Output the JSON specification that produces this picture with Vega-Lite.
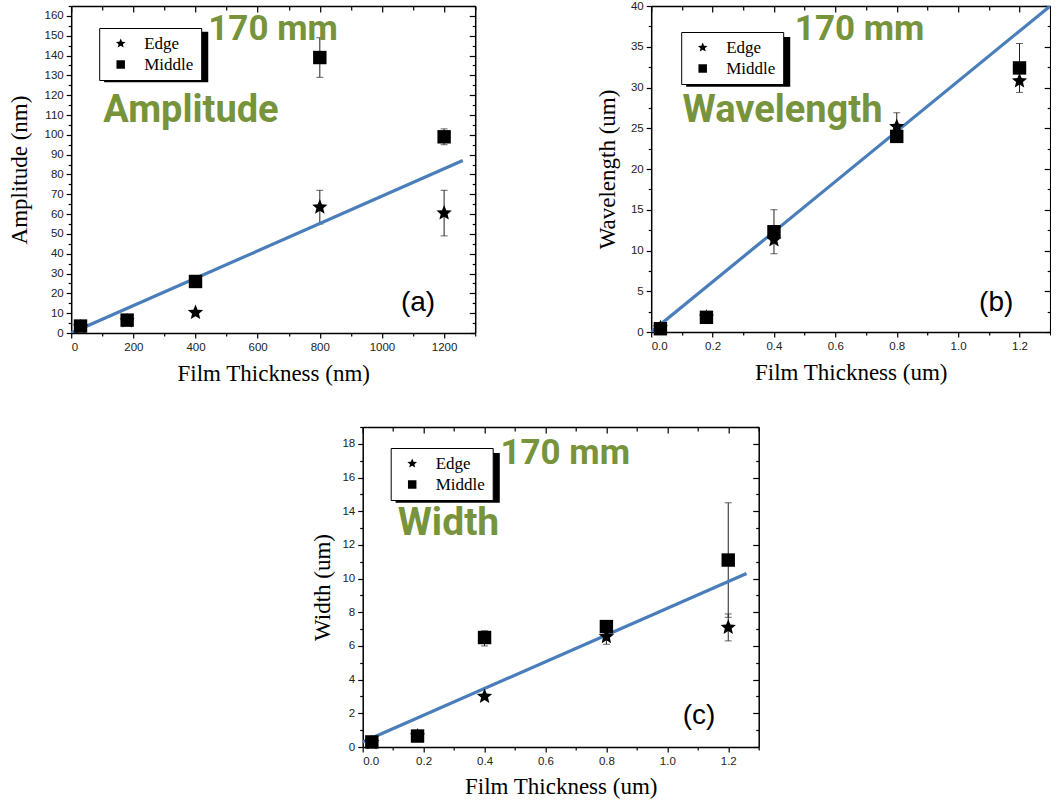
{
  "$schema": "https://vega.github.io/schema/vega-lite/v6.json",
  "background": "white",
  "padding": {"left": 8, "top": 0, "right": 0, "bottom": 0},
  "datasets": {
    "one": [{}],
    "ampl": [
      {"t": 30, "series": "Edge", "v": 3},
      {"t": 180, "series": "Edge", "v": 6},
      {"t": 400, "series": "Edge", "v": 10.3},
      {"t": 800, "series": "Edge", "v": 63.5, "lo": 55, "hi": 72},
      {"t": 1200, "series": "Edge", "v": 60.5, "lo": 49, "hi": 72},
      {"t": 30, "series": "Middle", "v": 3.5},
      {"t": 180, "series": "Middle", "v": 6.5},
      {"t": 400, "series": "Middle", "v": 26},
      {"t": 800, "series": "Middle", "v": 139, "lo": 129, "hi": 149},
      {"t": 1200, "series": "Middle", "v": 99, "lo": 95, "hi": 103}
    ],
    "afit": [{"t": 0, "v": 0}, {"t": 1260, "v": 87}],
    "wave": [
      {"t": 0.03, "series": "Edge", "v": 0.5},
      {"t": 0.18, "series": "Edge", "v": 1.8},
      {"t": 0.4, "series": "Edge", "v": 11.3},
      {"t": 0.8, "series": "Edge", "v": 25.2, "lo": 23.5, "hi": 26.9},
      {"t": 1.2, "series": "Edge", "v": 30.8},
      {"t": 0.03, "series": "Middle", "v": 0.4},
      {"t": 0.18, "series": "Middle", "v": 1.8},
      {"t": 0.4, "series": "Middle", "v": 12.3, "lo": 9.6, "hi": 15},
      {"t": 0.8, "series": "Middle", "v": 24},
      {"t": 1.2, "series": "Middle", "v": 32.4, "lo": 29.4, "hi": 35.4}
    ],
    "wfit": [{"t": 0, "v": 0}, {"t": 1.3, "v": 40}],
    "wid": [
      {"t": 0.03, "series": "Edge", "v": 0.25},
      {"t": 0.18, "series": "Edge", "v": 0.65},
      {"t": 0.4, "series": "Edge", "v": 3.0},
      {"t": 0.8, "series": "Edge", "v": 6.55, "lo": 6.1, "hi": 7.0},
      {"t": 1.2, "series": "Edge", "v": 7.1, "lo": 6.3, "hi": 7.9},
      {"t": 0.03, "series": "Middle", "v": 0.3},
      {"t": 0.18, "series": "Middle", "v": 0.65},
      {"t": 0.4, "series": "Middle", "v": 6.5, "lo": 6.0, "hi": 6.9},
      {"t": 0.8, "series": "Middle", "v": 7.15},
      {"t": 1.2, "series": "Middle", "v": 11.1, "lo": 7.7, "hi": 14.5}
    ],
    "cfit": [{"t": 0, "v": 0.3}, {"t": 1.26, "v": 10.3}]
  },
  "vconcat": [
    {
      "hconcat": [
        {
          "width": 404,
          "height": 327,
          "layer": [
            {"data": {"name": "one"}, "mark": {"type": "rect", "color": "black"},
             "encoding": {"x": {"datum": 106, "type": "quantitative", "axis": null}, "x2": {"datum": 441},
                          "y": {"datum": 152, "type": "quantitative", "axis": null}, "y2": {"datum": 126.5}}},
            {"data": {"name": "ampl"}, "transform": [{"filter": "isValid(datum.lo)"}],
             "mark": {"type": "errorbar", "ticks": {"size": 7}, "color": "#222", "thickness": 1},
             "encoding": {"x": {"field": "t", "type": "quantitative", "axis": null},
                          "y": {"field": "lo", "type": "quantitative", "axis": null}, "y2": {"field": "hi"}}},
            {"data": {"name": "afit"}, "mark": {"type": "line", "color": "#4A7EBB", "strokeWidth": 3.2, "clip": true},
             "encoding": {"x": {"field": "t", "type": "quantitative", "axis": null},
                          "y": {"field": "v", "type": "quantitative", "axis": null}}},
            {"data": {"name": "ampl"}, "mark": {"type": "point", "filled": true, "color": "black", "opacity": 1, "size": 180},
             "encoding": {
               "x": {"field": "t", "type": "quantitative", "scale": {"domain": [0, 1300], "nice": false, "zero": false},
                     "axis": {"orient": "bottom", "values": [0, 200, 400, 600, 800, 1000, 1200], "format": "d", "tickSize": 5, "labelPadding": 3, "title": "Film Thickness (nm)", "titlePadding": 10}},
               "y": {"field": "v", "type": "quantitative", "scale": {"domain": [0, 165], "nice": false, "zero": false},
                     "axis": {"orient": "left", "values": [0, 10, 20, 30, 40, 50, 60, 70, 80, 90, 100, 110, 120, 130, 140, 150, 160], "tickSize": 5, "labelPadding": 3, "title": "Amplitude (nm)", "titlePadding": 13}},
               "shape": {"field": "series", "type": "nominal", "scale": {"domain": ["Edge", "Middle"], "range": ["M0,-1.2L0.317,-0.437L1.141,-0.371L0.514,0.167L0.705,0.971L0,0.54L-0.705,0.971L-0.514,0.167L-1.141,-0.371L-0.317,-0.437Z", "square"]},
                         "legend": {"title": null, "orient": "none", "legendX": 28, "legendY": 22}}
             }},
            {"data": {"name": "one"}, "mark": {"type": "text", "text": "170 mm", "font": "Roboto", "fontWeight": "bold", "fontSize": 35, "color": "#77933C", "align": "left", "baseline": "alphabetic"},
             "encoding": {"x": {"datum": 441, "type": "quantitative", "axis": null}, "y": {"datum": 148, "type": "quantitative", "axis": null}}},
            {"data": {"name": "one"}, "mark": {"type": "text", "text": "Amplitude", "font": "Roboto", "fontWeight": "bold", "fontSize": 38, "color": "#77933C", "align": "left", "baseline": "alphabetic"},
             "encoding": {"x": {"datum": 103, "type": "quantitative", "axis": null}, "y": {"datum": 106.7, "type": "quantitative", "axis": null}}},
            {"data": {"name": "one"}, "mark": {"type": "text", "text": "(a)", "font": "Liberation Sans", "fontSize": 28, "color": "black", "align": "center", "baseline": "middle"},
             "encoding": {"x": {"datum": 1116, "type": "quantitative", "axis": null}, "y": {"datum": 15.2, "type": "quantitative", "axis": null}}},
            {"data": {"name": "ampl"}, "mark": {"type": "point", "opacity": 0},
             "encoding": {
               "x": {"field": "t", "type": "quantitative", "axis": {"orient": "bottom", "values": [100, 300, 500, 700, 900, 1100, 1300], "tickSize": 3, "labels": false, "domain": false, "title": null}},
               "y": {"field": "v", "type": "quantitative", "axis": {"orient": "left", "values": [5, 15, 25, 35, 45, 55, 65, 75, 85, 95, 105, 115, 125, 135, 145, 155, 165], "tickSize": 3, "labels": false, "domain": false, "title": null}}}},
            {"data": {"name": "ampl"}, "mark": {"type": "point", "opacity": 0},
             "encoding": {
               "x": {"field": "t", "type": "quantitative", "axis": {"orient": "top", "values": [0, 200, 400, 600, 800, 1000, 1200], "tickSize": -6, "labels": false, "domain": true, "title": null}},
               "y": {"field": "v", "type": "quantitative", "axis": {"orient": "right", "values": [0, 10, 20, 30, 40, 50, 60, 70, 80, 90, 100, 110, 120, 130, 140, 150, 160], "tickSize": -6, "labels": false, "domain": true, "title": null}}}},
            {"data": {"name": "ampl"}, "mark": {"type": "point", "opacity": 0},
             "encoding": {
               "x": {"field": "t", "type": "quantitative", "axis": {"orient": "top", "values": [100, 300, 500, 700, 900, 1100, 1300], "tickSize": -4, "labels": false, "domain": false, "title": null}},
               "y": {"field": "v", "type": "quantitative", "axis": {"orient": "right", "values": [5, 15, 25, 35, 45, 55, 65, 75, 85, 95, 105, 115, 125, 135, 145, 155, 165], "tickSize": -3, "labels": false, "domain": false, "title": null}}}}
          ],
          "resolve": {"axis": {"x": "independent", "y": "independent"}}
        },
        {
          "width": 399,
          "height": 326,
          "layer": [
            {"data": {"name": "one"}, "mark": {"type": "rect", "color": "black"},
             "encoding": {"x": {"datum": 0.114, "type": "quantitative", "axis": null}, "x2": {"datum": 0.453},
                          "y": {"datum": 36.2, "type": "quantitative", "axis": null}, "y2": {"datum": 30.1}}},
            {"data": {"name": "wave"}, "transform": [{"filter": "isValid(datum.lo)"}],
             "mark": {"type": "errorbar", "ticks": {"size": 7}, "color": "#222", "thickness": 1},
             "encoding": {"x": {"field": "t", "type": "quantitative", "axis": null},
                          "y": {"field": "lo", "type": "quantitative", "axis": null}, "y2": {"field": "hi"}}},
            {"data": {"name": "wfit"}, "mark": {"type": "line", "color": "#4A7EBB", "strokeWidth": 3.2, "clip": true},
             "encoding": {"x": {"field": "t", "type": "quantitative", "axis": null},
                          "y": {"field": "v", "type": "quantitative", "axis": null}}},
            {"data": {"name": "wave"}, "mark": {"type": "point", "filled": true, "color": "black", "opacity": 1, "size": 180},
             "encoding": {
               "x": {"field": "t", "type": "quantitative", "scale": {"domain": [0, 1.3], "nice": false, "zero": false},
                     "axis": {"orient": "bottom", "values": [0, 0.2, 0.4, 0.6, 0.8, 1.0, 1.2], "format": ".1f", "tickSize": 5, "labelPadding": 3, "title": "Film Thickness (um)", "titlePadding": 10}},
               "y": {"field": "v", "type": "quantitative", "scale": {"domain": [0, 40], "nice": false, "zero": false},
                     "axis": {"orient": "left", "values": [0, 5, 10, 15, 20, 25, 30, 35, 40], "tickSize": 5, "labelPadding": 3, "title": "Wavelength (um)", "titlePadding": 11}},
               "shape": {"field": "series", "type": "nominal", "scale": {"domain": ["Edge", "Middle"], "range": ["M0,-1.2L0.317,-0.437L1.141,-0.371L0.514,0.167L0.705,0.971L0,0.54L-0.705,0.971L-0.514,0.167L-1.141,-0.371L-0.317,-0.437Z", "square"]},
                         "legend": {"title": null, "orient": "none", "legendX": 30, "legendY": 26}}
             }},
            {"data": {"name": "one"}, "mark": {"type": "text", "text": "170 mm", "font": "Roboto", "fontWeight": "bold", "fontSize": 35, "color": "#77933C", "align": "left", "baseline": "alphabetic"},
             "encoding": {"x": {"datum": 0.468, "type": "quantitative", "axis": null}, "y": {"datum": 35.8, "type": "quantitative", "axis": null}}},
            {"data": {"name": "one"}, "mark": {"type": "text", "text": "Wavelength", "font": "Roboto", "fontWeight": "bold", "fontSize": 38, "color": "#77933C", "align": "left", "baseline": "alphabetic"},
             "encoding": {"x": {"datum": 0.102, "type": "quantitative", "axis": null}, "y": {"datum": 25.8, "type": "quantitative", "axis": null}}},
            {"data": {"name": "one"}, "mark": {"type": "text", "text": "(b)", "font": "Liberation Sans", "fontSize": 28, "color": "black", "align": "center", "baseline": "middle"},
             "encoding": {"x": {"datum": 1.124, "type": "quantitative", "axis": null}, "y": {"datum": 3.55, "type": "quantitative", "axis": null}}},
            {"data": {"name": "wave"}, "mark": {"type": "point", "opacity": 0},
             "encoding": {
               "x": {"field": "t", "type": "quantitative", "axis": {"orient": "bottom", "values": [0.1, 0.3, 0.5, 0.7, 0.9, 1.1, 1.3], "tickSize": 3, "labels": false, "domain": false, "title": null}},
               "y": {"field": "v", "type": "quantitative", "axis": {"orient": "left", "values": [2.5, 7.5, 12.5, 17.5, 22.5, 27.5, 32.5, 37.5], "tickSize": 3, "labels": false, "domain": false, "title": null}}}},
            {"data": {"name": "wave"}, "mark": {"type": "point", "opacity": 0},
             "encoding": {
               "x": {"field": "t", "type": "quantitative", "axis": {"orient": "top", "values": [0, 0.2, 0.4, 0.6, 0.8, 1.0, 1.2], "tickSize": -6, "labels": false, "domain": true, "title": null}},
               "y": {"field": "v", "type": "quantitative", "axis": {"orient": "right", "values": [0, 5, 10, 15, 20, 25, 30, 35, 40], "tickSize": -6, "labels": false, "domain": true, "title": null}}}},
            {"data": {"name": "wave"}, "mark": {"type": "point", "opacity": 0},
             "encoding": {
               "x": {"field": "t", "type": "quantitative", "axis": {"orient": "top", "values": [0.1, 0.3, 0.5, 0.7, 0.9, 1.1, 1.3], "tickSize": -4, "labels": false, "domain": false, "title": null}},
               "y": {"field": "v", "type": "quantitative", "axis": {"orient": "right", "values": [2.5, 7.5, 12.5, 17.5, 22.5, 27.5, 32.5, 37.5], "tickSize": -3, "labels": false, "domain": false, "title": null}}}}
          ],
          "resolve": {"axis": {"x": "independent", "y": "independent"}}
        }
      ],
      "spacing": 176,
      "bounds": "flush",
      "resolve": {"scale": {"shape": "independent"}, "legend": {"shape": "independent"}}
    },
    {
      "width": 396,
      "height": 320,
      "layer": [
        {"data": {"name": "one"}, "mark": {"type": "rect", "color": "black"},
         "encoding": {"x": {"datum": 0.108, "type": "quantitative", "axis": null}, "x2": {"datum": 0.45},
                      "y": {"datum": 17.46, "type": "quantitative", "axis": null}, "y2": {"datum": 14.5}}},
        {"data": {"name": "wid"}, "transform": [{"filter": "isValid(datum.lo)"}],
         "mark": {"type": "errorbar", "ticks": {"size": 7}, "color": "#222", "thickness": 1},
         "encoding": {"x": {"field": "t", "type": "quantitative", "axis": null},
                      "y": {"field": "lo", "type": "quantitative", "axis": null}, "y2": {"field": "hi"}}},
        {"data": {"name": "cfit"}, "mark": {"type": "line", "color": "#4A7EBB", "strokeWidth": 3.2, "clip": true},
         "encoding": {"x": {"field": "t", "type": "quantitative", "axis": null},
                      "y": {"field": "v", "type": "quantitative", "axis": null}}},
        {"data": {"name": "wid"}, "mark": {"type": "point", "filled": true, "color": "black", "opacity": 1, "size": 180},
         "encoding": {
           "x": {"field": "t", "type": "quantitative", "scale": {"domain": [0, 1.3], "nice": false, "zero": false},
                 "axis": {"orient": "bottom", "values": [0, 0.2, 0.4, 0.6, 0.8, 1.0, 1.2], "format": ".1f", "tickSize": 5, "labelPadding": 3, "title": "Film Thickness (um)", "titlePadding": 9}},
           "y": {"field": "v", "type": "quantitative", "scale": {"domain": [0, 19], "nice": false, "zero": false},
                 "axis": {"orient": "left", "values": [0, 2, 4, 6, 8, 10, 12, 14, 16, 18], "tickSize": 5, "labelPadding": 3, "title": "Width (um)", "titlePadding": 7}},
           "shape": {"field": "series", "type": "nominal", "scale": {"domain": ["Edge", "Middle"], "range": ["M0,-1.2L0.317,-0.437L1.141,-0.371L0.514,0.167L0.705,0.971L0,0.54L-0.705,0.971L-0.514,0.167L-1.141,-0.371L-0.317,-0.437Z", "square"]},
                     "legend": {"title": null, "orient": "none", "legendX": 28, "legendY": 21}}
         }},
        {"data": {"name": "one"}, "mark": {"type": "text", "text": "170 mm", "font": "Roboto", "fontWeight": "bold", "fontSize": 35, "color": "#77933C", "align": "left", "baseline": "alphabetic"},
         "encoding": {"x": {"datum": 0.452, "type": "quantitative", "axis": null}, "y": {"datum": 16.78, "type": "quantitative", "axis": null}}},
        {"data": {"name": "one"}, "mark": {"type": "text", "text": "Width", "font": "Roboto", "fontWeight": "bold", "fontSize": 39, "color": "#77933C", "align": "left", "baseline": "alphabetic"},
         "encoding": {"x": {"datum": 0.115, "type": "quantitative", "axis": null}, "y": {"datum": 12.59, "type": "quantitative", "axis": null}}},
        {"data": {"name": "one"}, "mark": {"type": "text", "text": "(c)", "font": "Liberation Sans", "fontSize": 28, "color": "black", "align": "center", "baseline": "middle"},
         "encoding": {"x": {"datum": 1.104, "type": "quantitative", "axis": null}, "y": {"datum": 1.82, "type": "quantitative", "axis": null}}},
        {"data": {"name": "wid"}, "mark": {"type": "point", "opacity": 0},
         "encoding": {
           "x": {"field": "t", "type": "quantitative", "axis": {"orient": "bottom", "values": [0.1, 0.3, 0.5, 0.7, 0.9, 1.1, 1.3], "tickSize": 3, "labels": false, "domain": false, "title": null}},
           "y": {"field": "v", "type": "quantitative", "axis": {"orient": "left", "values": [1, 3, 5, 7, 9, 11, 13, 15, 17, 19], "tickSize": 3, "labels": false, "domain": false, "title": null}}}},
        {"data": {"name": "wid"}, "mark": {"type": "point", "opacity": 0},
         "encoding": {
           "x": {"field": "t", "type": "quantitative", "axis": {"orient": "top", "values": [0, 0.2, 0.4, 0.6, 0.8, 1.0, 1.2], "tickSize": -6, "labels": false, "domain": true, "title": null}},
           "y": {"field": "v", "type": "quantitative", "axis": {"orient": "right", "values": [0, 2, 4, 6, 8, 10, 12, 14, 16, 18], "tickSize": -6, "labels": false, "domain": true, "title": null}}}},
        {"data": {"name": "wid"}, "mark": {"type": "point", "opacity": 0},
         "encoding": {
           "x": {"field": "t", "type": "quantitative", "axis": {"orient": "top", "values": [0.1, 0.3, 0.5, 0.7, 0.9, 1.1, 1.3], "tickSize": -4, "labels": false, "domain": false, "title": null}},
           "y": {"field": "v", "type": "quantitative", "axis": {"orient": "right", "values": [1, 3, 5, 7, 9, 11, 13, 15, 17, 19], "tickSize": -3, "labels": false, "domain": false, "title": null}}}}
      ],
      "resolve": {"axis": {"x": "independent", "y": "independent"}}
    }
  ],
  "spacing": 40,
  "center": true,
  "resolve": {"scale": {"shape": "independent"}, "legend": {"shape": "independent"}},
  "config": {
    "view": {"stroke": null},
    "axis": {
      "grid": false,
      "domainColor": "#000",
      "domainWidth": 1.5,
      "tickColor": "#000",
      "tickWidth": 1.2,
      "labelFont": "Liberation Sans",
      "labelFontSize": 11.5,
      "labelColor": "#222",
      "titleFont": "Liberation Serif",
      "titleFontSize": 23,
      "titleFontWeight": "normal",
      "titleColor": "#000"
    },
    "legend": {
      "fillColor": "white",
      "strokeColor": "black",
      "strokeWidth": 1,
      "padding": 7,
      "labelFont": "Liberation Serif",
      "labelFontSize": 17,
      "labelColor": "black",
      "labelOffset": 15,
      "rowPadding": 3,
      "symbolSize": 72,
      "symbolFillColor": "black",
      "symbolStrokeColor": "black",
      "symbolStrokeWidth": 0,
      "symbolOffset": 6
    }
  }
}
